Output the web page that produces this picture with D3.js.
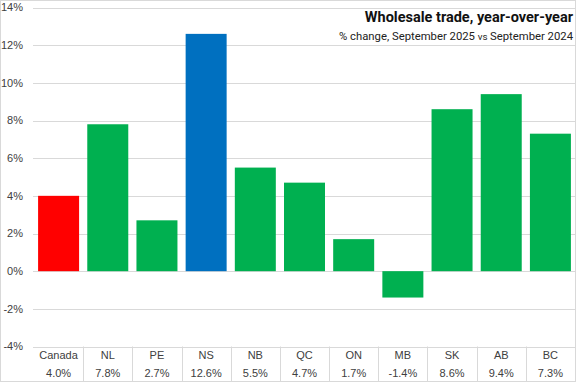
<!DOCTYPE html>
<html><head><meta charset="utf-8">
<script src="https://cdn.jsdelivr.net/npm/d3@7"></script>
<style>body{margin:0;background:#fff}svg{display:block}</style>
</head><body>
<svg id="c" width="576" height="384"></svg>
<script>
const categories = ["Canada","NL","PE","NS","NB","QC","ON","MB","SK","AB","BC"];
const values = [4.0,7.8,2.7,12.6,5.5,4.7,1.7,-1.4,8.6,9.4,7.3];
const valueLabels = ["4.0%","7.8%","2.7%","12.6%","5.5%","4.7%","1.7%","-1.4%","8.6%","9.4%","7.3%"];
const colors = ["#FF0000","#00B050","#00B050","#0070C0","#00B050","#00B050","#00B050","#00B050","#00B050","#00B050","#00B050"];
const yTicks = [-4,-2,0,2,4,6,8,10,12,14];
const title = "Wholesale trade, year-over-year";

const svg = d3.select("#c");
const font = "'Liberation Sans', Arial, sans-serif";
const xs = d3.scaleBand().domain(categories).range([34, 575]);
const y = d3.scaleLinear().domain([-4, 14]).range([346.5, 7.5]);

// chart border
svg.append("rect").attr("x",0.5).attr("y",0.5).attr("width",575).attr("height",381)
  .attr("fill","none").attr("stroke","#d9d9d9");

// gridlines
svg.append("g").selectAll("line").data(yTicks).join("line")
  .attr("x1",33).attr("x2",575).attr("y1",d=>Math.round(y(d))+0.5).attr("y2",d=>Math.round(y(d))+0.5)
  .attr("stroke","#d9d9d9").attr("stroke-width",1);

// y labels
svg.append("g").selectAll("text").data(yTicks).join("text")
  .attr("x",23).attr("y",d=>y(d)).attr("dy","0.35em").attr("text-anchor","end")
  .attr("font-family",font).attr("font-size",11).attr("fill","#404040")
  .text(d=>d+"%");

// bars
svg.append("g").selectAll("rect").data(values).join("rect")
  .attr("x",(d,i)=>xs(categories[i]) + (xs.bandwidth()-41)/2)
  .attr("width",41)
  .attr("y",d=>y(Math.max(0,d)))
  .attr("height",d=>Math.abs(y(d)-y(0)))
  .attr("fill",(d,i)=>colors[i]);

// table dividers
svg.append("g").selectAll("line").data(categories.slice(1)).join("line")
  .attr("x1",d=>Math.round(xs(d))+0.5).attr("x2",d=>Math.round(xs(d))+0.5)
  .attr("y1",y(-4)).attr("y2",381.5)
  .attr("stroke","#d9d9d9");

// table text
const t = svg.append("g").attr("font-family",font).attr("font-size",11).attr("fill","#404040").attr("text-anchor","middle");
t.selectAll("text.cat").data(categories).join("text").attr("class","cat")
  .attr("x",d=>xs(d)+xs.bandwidth()/2).attr("y",359).text(d=>d);
t.selectAll("text.val").data(valueLabels).join("text").attr("class","val")
  .attr("x",(d,i)=>xs(categories[i])+xs.bandwidth()/2).attr("y",377).text(d=>d);

// title
svg.append("text").attr("x",573).attr("y",22).attr("text-anchor","end")
  .attr("font-family","Roboto, 'Liberation Sans', sans-serif").attr("font-weight","bold")
  .attr("font-size",14.5).attr("fill","#111").text(title);
const sub = svg.append("text").attr("x",573).attr("y",40).attr("text-anchor","end")
  .attr("font-family","Roboto, 'Liberation Sans', sans-serif").attr("font-size",11.3).attr("fill","#222");
sub.append("tspan").text("% change, September  2025 ");
sub.append("tspan").attr("font-size",9.8).text("vs ");
sub.append("tspan").text("September 2024");
</script>
</body></html>
